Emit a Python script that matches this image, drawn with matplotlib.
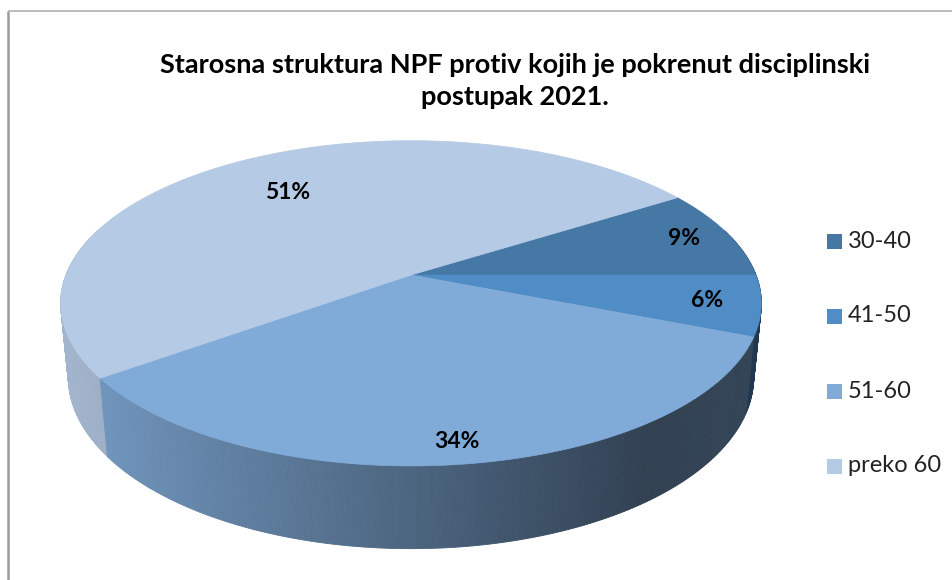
import numpy as np
import matplotlib.pyplot as plt
from matplotlib.collections import PolyCollection
from matplotlib.patches import Polygon, Rectangle

plt.rcParams['font.family'] = ['Lato', 'DejaVu Sans']

# data
categories = ['30-40', '41-50', '51-60', 'preko 60']
shares = [9, 6, 34, 51]
slice_colors = ['#4678A6', '#508CC5', '#80AAD7', '#B5CAE4']
title_text = 'Starosna struktura NPF protiv kojih je pokrenut disciplinski\npostupak 2021.'

# layout of the 3d pie (pixels)
W, H = 953, 580
CX, CY, K = 411, 275, 345
ELEV = np.radians(27.2)
S, C = np.sin(ELEV), np.cos(ELEV)
DIST = 5.11
THICK = 0.242
label_radius = [0.86, 0.85, 0.9, 0.70]


def project(theta, y=0.0, r=1.0):
    """world point on the pie -> screen pixel (perspective)"""
    x = r * np.cos(theta)
    z = r * np.sin(theta)
    depth = z * C + y * S
    f = DIST / (DIST - depth)
    return CX + K * x * f, CY + K * (z * S - y * C) * f


def side_shade(px):
    return np.interp(px, [60, 100, 650, 770], [0.90, 0.87, 0.38, 0.41])


def to_rgb(hexcol):
    hexcol = hexcol.lstrip('#')
    return np.array([int(hexcol[i:i + 2], 16) for i in (0, 2, 4)]) / 255.0


fig = plt.figure(figsize=(W / 100, H / 100), dpi=100)
ax = fig.add_axes([0, 0, 1, 1])
ax.set_xlim(0, W)
ax.set_ylim(H, 0)
ax.axis('off')

# chart frame
ax.plot([8, 8], [11, H], color='#9A9A9A', lw=1.8, solid_capstyle='butt')
ax.plot([8, W], [11, 11], color='#B0B0B0', lw=1.2, solid_capstyle='butt')

total = float(sum(shares))
fracs = np.array(shares) / total
start = -fracs[0] * 2 * np.pi          # first slice ends at 3 o'clock
edges = start + np.concatenate([[0], np.cumsum(fracs)]) * 2 * np.pi

# side walls
strips, strip_cols, keys = [], [], []
for i in range(len(shares)):
    a0 = max(edges[i], -0.3)
    a1 = min(edges[i + 1], np.pi + 0.3)
    if a1 <= a0:
        continue
    n = max(2, int(np.degrees(a1 - a0) * 2))
    ts = np.linspace(a0, a1, n + 1)
    base = to_rgb(slice_colors[i])
    for t0, t1 in zip(ts[:-1], ts[1:]):
        p = [project(t0), project(t1), project(t1, -THICK), project(t0, -THICK)]
        mid_x = (p[0][0] + p[1][0]) / 2
        strips.append(p)
        strip_cols.append(np.clip(base * side_shade(mid_x), 0, 1))
        keys.append(np.sin((t0 + t1) / 2))
order = np.argsort(keys)
strips = [strips[j] for j in order]
strip_cols = [strip_cols[j] for j in order]
ax.add_collection(PolyCollection(strips, facecolors=strip_cols, edgecolors=strip_cols,
                                 linewidths=0.6, zorder=2))

# top faces
for i in range(len(shares)):
    ts = np.linspace(edges[i], edges[i + 1], 200)
    pts = [project(0, 0, 0)] + [project(t) for t in ts]
    ax.add_patch(Polygon(pts, closed=True, facecolor=slice_colors[i],
                         edgecolor=slice_colors[i], lw=0.5, zorder=3))

# percentage labels
for i, v in enumerate(shares):
    mid = (edges[i] + edges[i + 1]) / 2
    lx, ly = project(mid, 0, label_radius[i])
    ax.text(lx, ly, f'{v}%', ha='center', va='center', fontsize=16.5,
            fontweight='bold', color='black', zorder=5)

# title
ax.text(515, 81, title_text, ha='center', va='center', fontsize=19.5,
        fontweight='bold', linespacing=1.38, zorder=5)

# legend
for i, name in enumerate(categories):
    y = 241 + i * 75
    ax.add_patch(Rectangle((827, y - 7.5), 15, 15, facecolor=slice_colors[i],
                           edgecolor='none', zorder=5))
    ax.text(848, y, name, ha='left', va='center', fontsize=17, color='#222222', zorder=5)

fig.savefig('out.png', dpi=100)
